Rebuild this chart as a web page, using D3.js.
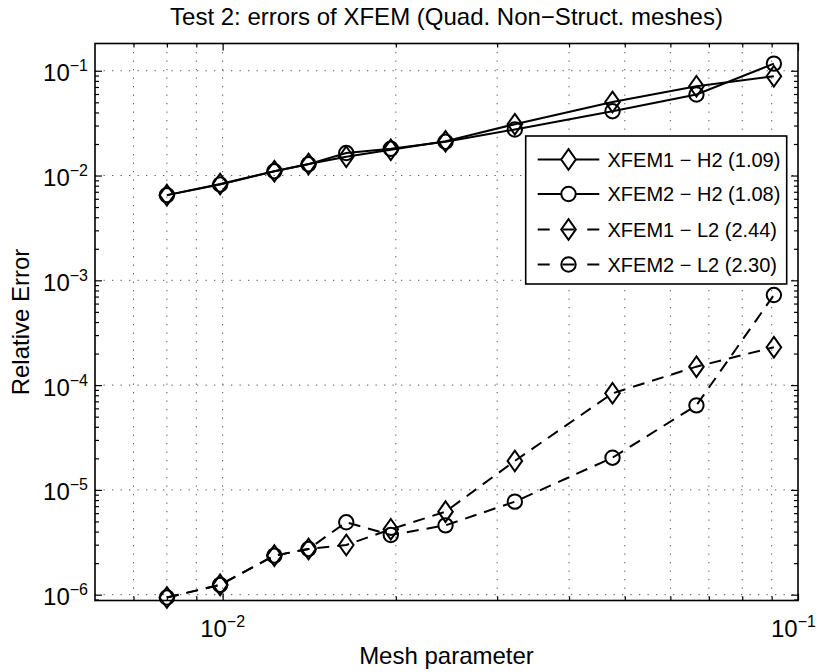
<!DOCTYPE html>
<html>
<head>
<meta charset="utf-8">
<script src="https://cdn.jsdelivr.net/npm/d3@7"></script>
<style>
    body { margin: 0; background: #fff; }
    svg { display: block; font-family: "Liberation Sans", Arial, Helvetica, sans-serif; }
    .axis path { display: none; }
    .axis line { stroke: #000; stroke-width: 1.2; }
</style>
</head>
<body>
<svg id="chart" width="817" height="672"></svg>
<script>
// Mesh parameter h for each refinement level
const meshH = [0.0080, 0.0099, 0.0123, 0.0141, 0.0164, 0.0196, 0.0244, 0.0322, 0.0476, 0.0666, 0.0908];

// Relative errors
const xfem1H2 = [0.0065, 0.0083, 0.0110, 0.0129, 0.0151, 0.0176, 0.0212, 0.0309, 0.0504, 0.0711, 0.0886];
const xfem2H2 = [0.0065, 0.0082, 0.0110, 0.0128, 0.0164, 0.0180, 0.0210, 0.0275, 0.0411, 0.0593, 0.117];
const xfem1L2 = [9.4e-7, 1.24e-6, 2.36e-6, 2.73e-6, 2.98e-6, 4.21e-6, 6.2e-6, 1.89e-5, 8.35e-5, 1.5e-4, 2.3e-4];
const xfem2L2 = [9.4e-7, 1.24e-6, 2.36e-6, 2.73e-6, 4.91e-6, 3.71e-6, 4.59e-6, 7.72e-6, 2.03e-5, 6.41e-5, 7.24e-4];

const legendLabels = ["XFEM1 \u2212 H2 (1.09)", "XFEM2 \u2212 H2 (1.08)", "XFEM1 \u2212 L2 (2.44)", "XFEM2 \u2212 L2 (2.30)"];

// Tick labels (base 10 with exponent)
const xTickValues = [0.01, 0.1];
const xTickExps = ["\u22122", "\u22121"];
const yTickValues = [1e-6, 1e-5, 1e-4, 1e-3, 1e-2, 1e-1];
const yTickExps = ["\u22126", "\u22125", "\u22124", "\u22123", "\u22122", "\u22121"];

const series = [
    { values: xfem1H2, marker: "diamond", dashed: false },
    { values: xfem2H2, marker: "circle", dashed: false },
    { values: xfem1L2, marker: "diamond", dashed: true },
    { values: xfem2L2, marker: "circle", dashed: true }
];

const svg = d3.select("#chart");
const W = 817;
const plotL = 95, plotR = 798, plotT = 43.5, plotB = 600.5;

const x = d3.scaleLog().domain([0.006, 0.1]).range([plotL, plotR]);
const y = d3.scaleLog().domain([8.8e-7, 0.182]).range([plotB, plotT]);

const xMinor = x.ticks().filter(v => x(v) > plotL + 0.5 && x(v) < plotR - 0.5);
const yMinor = y.ticks().filter(v => y(v) > plotT + 0.5 && y(v) < plotB - 0.5);

// Dotted grid: every x tick, only decades on y
const grid = svg.append("g").attr("stroke", "#555").attr("stroke-width", 1)
    .attr("stroke-dasharray", "1.3,7.2");
xMinor.forEach(v => {
    grid.append("line").attr("x1", x(v)).attr("x2", x(v)).attr("y1", plotT).attr("y2", plotB);
});
yTickValues.forEach(v => {
    grid.append("line").attr("x1", plotL).attr("x2", plotR).attr("y1", y(v)).attr("y2", y(v));
});

// Ticks pointing inwards on all four sides
function tickAxis(gen, values, size, transform) {
    svg.append("g").attr("class", "axis").attr("transform", transform)
        .call(gen.tickValues(values).tickSize(size).tickFormat(""));
}
const xMinorOnly = xMinor.filter(v => !xTickValues.includes(v));
const yMinorOnly = yMinor.filter(v => !yTickValues.includes(v));
tickAxis(d3.axisBottom(x), xMinorOnly, -4, `translate(0,${plotB})`);
tickAxis(d3.axisBottom(x), xTickValues, -7, `translate(0,${plotB})`);
tickAxis(d3.axisTop(x), xMinorOnly, -4, `translate(0,${plotT})`);
tickAxis(d3.axisTop(x), xTickValues, -7, `translate(0,${plotT})`);
tickAxis(d3.axisLeft(y), yMinorOnly, -4, `translate(${plotL},0)`);
tickAxis(d3.axisLeft(y), yTickValues, -7, `translate(${plotL},0)`);
tickAxis(d3.axisRight(y), yMinorOnly, -4, `translate(${plotR},0)`);
tickAxis(d3.axisRight(y), yTickValues, -7, `translate(${plotR},0)`);

// Box
svg.append("rect").attr("x", plotL).attr("y", plotT)
    .attr("width", plotR - plotL).attr("height", plotB - plotT)
    .attr("fill", "none").attr("stroke", "#000").attr("stroke-width", 1.6);

// Tick labels
xTickValues.forEach((v, i) => {
    const t = svg.append("text").attr("x", x(v)).attr("y", 637)
        .attr("text-anchor", "middle").attr("font-size", 24);
    t.append("tspan").text("10");
    t.append("tspan").attr("dy", -10).attr("font-size", 16).text(xTickExps[i]);
    // keep the last label inside the picture
    const bb = t.node().getBBox();
    if (bb.x + bb.width > W - 1) t.attr("x", x(v) - (bb.x + bb.width - (W - 1)));
});
yTickValues.forEach((v, i) => {
    const t = svg.append("text").attr("x", 88).attr("y", y(v) + 10.5)
        .attr("text-anchor", "end").attr("font-size", 24);
    t.append("tspan").text("10");
    t.append("tspan").attr("dy", -10).attr("font-size", 16).text(yTickExps[i]);
});

// Marker shapes
function drawMarker(g, type, cx, cy, fill) {
    if (type === "diamond") {
        g.append("path")
            .attr("d", `M${cx},${cy - 10.3} L${cx + 7.3},${cy} L${cx},${cy + 10.3} L${cx - 7.3},${cy} Z`)
            .attr("fill", fill).attr("stroke", "#000").attr("stroke-width", 2);
    } else {
        g.append("circle").attr("cx", cx).attr("cy", cy).attr("r", 7.2)
            .attr("fill", fill).attr("stroke", "#000").attr("stroke-width", 2);
    }
}

// Lines and markers
const line = d3.line().x(d => x(d[0])).y(d => y(d[1]));
series.forEach(s => {
    const pts = meshH.map((h, i) => [h, s.values[i]]);
    svg.append("path").datum(pts).attr("d", line)
        .attr("fill", "none").attr("stroke", "#000").attr("stroke-width", 2)
        .attr("stroke-dasharray", s.dashed ? "12,8" : null);
    const g = svg.append("g");
    pts.forEach(p => drawMarker(g, s.marker, x(p[0]), y(p[1]), "none"));
});

// Legend
const lg = svg.append("g");
lg.append("rect").attr("x", 525.7).attr("y", 136).attr("width", 261).attr("height", 148)
    .attr("fill", "#fff").attr("stroke", "#000").attr("stroke-width", 1.6);
const rowY = [159.5, 194, 229.5, 264.5];
series.forEach((s, i) => {
    const ry = rowY[i];
    lg.append("line").attr("x1", 537.7).attr("x2", 599.3).attr("y1", ry).attr("y2", ry)
        .attr("stroke", "#000").attr("stroke-width", 2)
        .attr("stroke-dasharray", s.dashed ? "12,12.8" : null);
    drawMarker(lg, s.marker, 568.5, ry, s.dashed ? "none" : "#fff");
    lg.append("text").attr("x", 607.5).attr("y", ry + 7.2)
        .attr("font-size", 20).text(legendLabels[i]);
});

// Title and axis labels
svg.append("text").attr("x", 446.5).attr("y", 25).attr("text-anchor", "middle")
    .attr("font-size", 24).text("Test 2: errors of XFEM (Quad. Non\u2212Struct. meshes)");
svg.append("text").attr("x", 446.5).attr("y", 664).attr("text-anchor", "middle")
    .attr("font-size", 24).text("Mesh parameter");
svg.append("text").attr("transform", `translate(29,${(plotT + plotB) / 2}) rotate(-90)`)
    .attr("text-anchor", "middle").attr("font-size", 24).text("Relative Error");
</script>
</body>
</html>
